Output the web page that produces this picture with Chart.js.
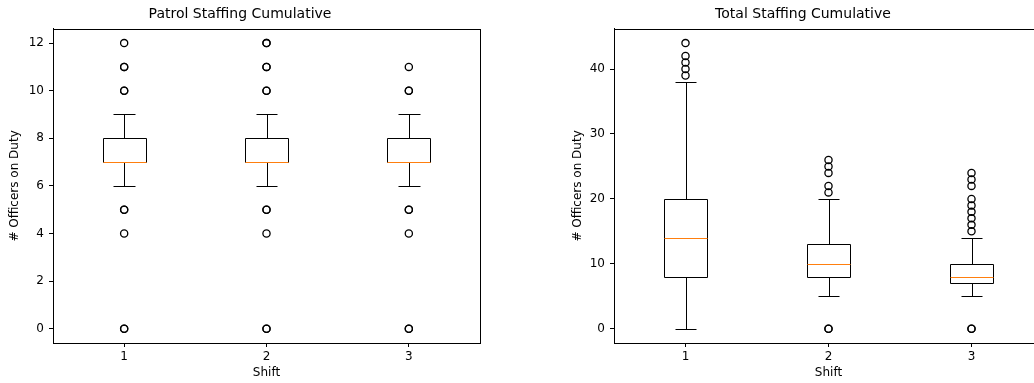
<!DOCTYPE html>
<html lang="en">
<head>
    <meta charset="UTF-8">
    <title>Staffing Cumulative</title>
    <script src="https://cdn.jsdelivr.net/npm/chart.js"></script>
    <style>
        html, body { margin: 0; padding: 0; background: #fff; overflow: hidden; width: 1034px; height: 383px; }
        #wrap { position: relative; width: 1034px; height: 383px; overflow: hidden; }
        canvas { position: absolute; top: 0; }
        #patrolChart { left: 0; }
        #totalChart { left: 520px; }
    </style>
</head>
<body>
    <div id="wrap">
        <canvas id="patrolChart" width="500" height="383"></canvas>
        <canvas id="totalChart" width="543" height="383"></canvas>
    </div>

    <script>
        // shifts on the x axis
        const shifts = [1, 2, 3];

        // Patrol staffing box stats per shift
        const patrolQ1 = [7, 7, 7];
        const patrolMedian = [7, 7, 7];
        const patrolQ3 = [8, 8, 8];
        const patrolLow = [6, 6, 6];
        const patrolHigh = [9, 9, 9];
        // repeated values = several shifts landing on the same count
        const patrolOutliers = [
            [12, 11, 11, 10, 10, 5, 5, 4, 0, 0],
            [12, 12, 11, 11, 10, 10, 5, 5, 4, 0, 0],
            [11, 10, 10, 5, 5, 4, 0, 0]
        ];
        const patrolTicks = [0, 2, 4, 6, 8, 10, 12];

        // Total staffing box stats per shift
        const totalQ1 = [8, 8, 7];
        const totalMedian = [14, 10, 8];
        const totalQ3 = [20, 13, 10];
        const totalLow = [0, 5, 5];
        const totalHigh = [38, 20, 14];
        const totalOutliers = [
            [44, 42, 41, 40, 39],
            [26, 25, 24, 22, 21, 0, 0],
            [24, 23, 22, 20, 19, 18, 17, 16, 15, 0, 0]
        ];
        const totalTicks = [0, 10, 20, 30, 40];

        const boxWidth = 0.3;
        const capWidth = 0.15;

        // draws boxes, whiskers, caps, medians and the frame from the scales
        const boxPlugin = {
            id: 'boxes',
            afterDatasetsDraw(chart, args, opts) {
                const ctx = chart.ctx;
                const x = chart.scales.x, y = chart.scales.y;
                const px = v => Math.round(x.getPixelForValue(v)) + 0.5;
                const py = v => Math.round(y.getPixelForValue(v)) + 0.5;
                ctx.save();
                ctx.lineWidth = 1;
                for (let i = 0; i < shifts.length; i++) {
                    const s = shifts[i];
                    const xl = px(s - boxWidth / 2), xr = px(s + boxWidth / 2);
                    const xc = px(s);
                    const cl = px(s - capWidth / 2), cr = px(s + capWidth / 2);
                    const q1 = py(opts.q1[i]), q3 = py(opts.q3[i]);
                    const lo = py(opts.low[i]), hi = py(opts.high[i]);
                    const md = py(opts.median[i]);
                    ctx.strokeStyle = '#000';
                    ctx.beginPath();
                    // box
                    ctx.rect(xl, q3, xr - xl, q1 - q3);
                    // whiskers
                    ctx.moveTo(xc, q1); ctx.lineTo(xc, lo);
                    ctx.moveTo(xc, q3); ctx.lineTo(xc, hi);
                    // caps
                    ctx.moveTo(cl, lo); ctx.lineTo(cr, lo);
                    ctx.moveTo(cl, hi); ctx.lineTo(cr, hi);
                    ctx.stroke();
                    ctx.strokeStyle = '#ff7f0e';
                    ctx.beginPath();
                    ctx.moveTo(xl, md); ctx.lineTo(xr, md);
                    ctx.stroke();
                }
                const a = chart.chartArea;
                ctx.strokeStyle = '#000';
                ctx.strokeRect(Math.round(a.left) + 0.5, Math.round(a.top) + 0.5,
                    Math.round(a.right - a.left), Math.round(a.bottom - a.top));
                ctx.restore();
            }
        };

        function outlierPoints(list) {
            const pts = [];
            list.forEach((vals, i) => vals.forEach(v => pts.push({ x: shifts[i], y: v })));
            return pts;
        }

        function makeChart(id, title, stats, outliers, yMin, yMax, yTicks, padLeft, yWidth) {
            const ctx = document.getElementById(id).getContext('2d');
            return new Chart(ctx, {
                type: 'scatter',
                data: {
                    datasets: [{
                        data: outlierPoints(outliers),
                        pointStyle: 'circle',
                        pointRadius: 3.6,
                        pointHoverRadius: 3.6,
                        pointBorderWidth: 1.3,
                        pointBorderColor: '#000',
                        pointBackgroundColor: 'rgba(0,0,0,0)'
                    }]
                },
                options: {
                    responsive: false,
                    animation: false,
                    layout: { padding: { left: padLeft, right: 20, top: 0, bottom: 0 } },
                    plugins: {
                        legend: { display: false },
                        tooltip: { enabled: false },
                        title: {
                            display: true,
                            text: title,
                            color: '#000',
                            font: { family: 'DejaVu Sans', size: 14, weight: 'normal' },
                            padding: { top: 6, bottom: 6 }
                        },
                        boxes: stats
                    },
                    scales: {
                        x: {
                            type: 'linear',
                            min: 0.5,
                            max: 3.5,
                            afterBuildTicks: scale => { scale.ticks = shifts.map(v => ({ value: v })); },
                            afterFit: scale => { scale.height = 40; },
                            ticks: { color: '#000', padding: 3, font: { family: 'DejaVu Sans', size: 12 } },
                            grid: { drawOnChartArea: false, drawTicks: true, tickLength: 4, tickColor: '#000' },
                            border: { display: true, color: '#000' },
                            title: {
                                display: true, text: 'Shift', color: '#000',
                                font: { family: 'DejaVu Sans', size: 12 },
                                padding: { top: 0, bottom: 3 }
                            }
                        },
                        y: {
                            type: 'linear',
                            min: yMin,
                            max: yMax,
                            afterBuildTicks: scale => { scale.ticks = yTicks.map(v => ({ value: v })); },
                            afterFit: scale => { scale.width = yWidth; },
                            ticks: { color: '#000', padding: 5, font: { family: 'DejaVu Sans', size: 12 } },
                            grid: { drawOnChartArea: false, drawTicks: true, tickLength: 4, tickColor: '#000' },
                            border: { display: true, color: '#000' },
                            title: {
                                display: true, text: '# Officers on Duty', color: '#000',
                                font: { family: 'DejaVu Sans', size: 12 },
                                padding: { top: 8, bottom: 0 }
                            }
                        }
                    }
                },
                plugins: [boxPlugin]
            });
        }

        makeChart('patrolChart', 'Patrol Staffing Cumulative',
            { q1: patrolQ1, median: patrolMedian, q3: patrolQ3, low: patrolLow, high: patrolHigh },
            patrolOutliers, -0.6, 12.6, patrolTicks, 0, 53);

        makeChart('totalChart', 'Total Staffing Cumulative',
            { q1: totalQ1, median: totalMedian, q3: totalQ3, low: totalLow, high: totalHigh },
            totalOutliers, -2.2, 46.2, totalTicks, 43, 51);
    </script>
</body>
</html>
